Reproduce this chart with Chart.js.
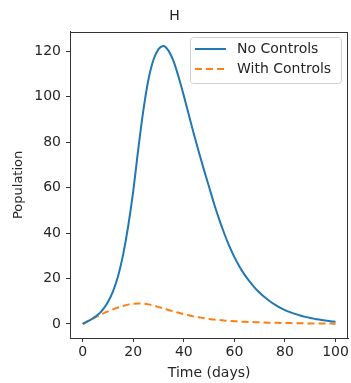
<!DOCTYPE html>
<html>
<head>
<meta charset="utf-8">
<script src="https://cdn.jsdelivr.net/npm/chart.js@4"></script>
<style>
  html, body { margin: 0; padding: 0; background: #fff; }
  #wrap { width: 351px; height: 383px; }
</style>
</head>
<body>
<div id="wrap"><canvas id="chart" width="351" height="383"></canvas></div>
<script>
const days = [0, 2, 4, 6, 8, 10, 12, 14, 16, 18, 20, 22, 24, 26, 28, 30, 32, 34, 36, 38, 40,
  42, 44, 46, 48, 50, 52, 54, 56, 58, 60, 62, 64, 66, 68, 70, 72, 74, 76, 78, 80,
  82, 84, 86, 88, 90, 92, 94, 96, 98, 100];

const noControls = [0, 1.1, 2.4, 4.0, 6.3, 9.6, 14.3, 21.0, 30.5, 43, 58.5, 77, 94, 107.5, 116.3, 121, 122.4, 120.2, 115.5, 108.5, 100.5,
  92, 83.5, 75.5, 67.7, 60.3, 52.8, 46, 39.8, 34.2, 29.4, 25.3, 21.7, 18.7, 16, 13.7, 11.7, 10, 8.5, 7.2, 6.1,
  5.2, 4.4, 3.7, 3.1, 2.6, 2.2, 1.8, 1.5, 1.2, 1.0];

const withControls = [0, 1.2, 2.3, 3.4, 4.5, 5.5, 6.4, 7.2, 7.9, 8.5, 8.9, 9.0, 8.9, 8.6, 8.1, 7.4, 6.8, 6.1, 5.5, 4.9, 4.3,
  3.8, 3.3, 2.9, 2.5, 2.2, 1.9, 1.7, 1.5, 1.3, 1.2, 1.05, 0.95, 0.85, 0.75, 0.68, 0.6, 0.55, 0.5, 0.45, 0.4,
  0.36, 0.32, 0.28, 0.25, 0.22, 0.2, 0.17, 0.15, 0.13, 0.1];

const xTicks = [0, 20, 40, 60, 80, 100];
const yTicks = [0, 20, 40, 60, 80, 100, 120];

const FONT = "'DejaVu Sans', sans-serif";
const TEXT = '#262626';
const EDGE = '#333';

// frame + legend box like matplotlib
const framePlugin = {
  id: 'frame',
  afterDraw(chart) {
    const ctx = chart.ctx;
    const a = chart.chartArea;
    ctx.save();
    ctx.strokeStyle = EDGE;
    ctx.lineWidth = 1;
    ctx.strokeRect(Math.round(a.left) + 0.5, Math.round(a.top) + 0.5,
      Math.round(a.right - a.left) - 1, Math.round(a.bottom - a.top));

    // legend in upper right
    const x0 = 190, y0 = 37, w = 151, h = 46;
    ctx.fillStyle = 'rgba(255,255,255,0.8)';
    ctx.strokeStyle = '#d0d0d0';
    ctx.beginPath();
    ctx.roundRect(x0 + 0.5, y0 + 0.5, w, h, 3);
    ctx.fill();
    ctx.stroke();
    ctx.font = '14px ' + FONT;
    ctx.textBaseline = 'middle';
    chart.data.datasets.forEach((ds, i) => {
      const yy = y0 + 12 + i * 20;
      ctx.strokeStyle = ds.borderColor;
      ctx.lineWidth = 2;
      ctx.setLineDash(ds.borderDash || []);
      ctx.beginPath();
      ctx.moveTo(x0 + 5, yy);
      ctx.lineTo(x0 + 36, yy);
      ctx.stroke();
      ctx.setLineDash([]);
      ctx.fillStyle = TEXT;
      ctx.fillText(ds.label, x0 + 47, yy);
    });
    ctx.restore();
  }
};

new Chart(document.getElementById('chart'), {
  type: 'line',
  data: {
    datasets: [
      {
        label: 'No Controls',
        data: days.map((d, i) => ({ x: d, y: noControls[i] })),
        borderColor: '#1f77b4',
        borderWidth: 2,
        pointRadius: 0,
        cubicInterpolationMode: 'monotone',
        fill: false
      },
      {
        label: 'With Controls',
        data: days.map((d, i) => ({ x: d, y: withControls[i] })),
        borderColor: '#ff7f0e',
        borderWidth: 2,
        borderDash: [7, 4],
        pointRadius: 0,
        cubicInterpolationMode: 'monotone',
        fill: false
      }
    ]
  },
  options: {
    responsive: false,
    animation: false,
    events: [],
    layout: { padding: { top: 0, right: 2, left: 0, bottom: 0 } },
    plugins: {
      legend: { display: false },
      tooltip: { enabled: false },
      title: {
        display: true,
        text: 'H',
        color: TEXT,
        font: { family: FONT, size: 14, weight: 'normal' },
        padding: { top: 8, bottom: 7 }
      }
    },
    scales: {
      x: {
        type: 'linear',
        min: -5,
        max: 105,
        afterBuildTicks: (s) => { s.ticks = xTicks.map(v => ({ value: v })); },
        afterFit: (s) => { s.height = 45; },
        ticks: { color: TEXT, font: { family: FONT, size: 14 }, padding: 2, maxRotation: 0 },
        grid: { drawOnChartArea: false, drawTicks: true, tickLength: 4, color: EDGE },
        border: { display: true, color: EDGE },
        title: {
          display: true, text: 'Time (days)', color: TEXT,
          font: { family: FONT, size: 14 }, padding: { top: 0, bottom: 1 }
        }
      },
      y: {
        min: -6.2,
        max: 128.6,
        afterBuildTicks: (s) => { s.ticks = yTicks.map(v => ({ value: v })); },
        afterFit: (s) => { s.width = 70; },
        ticks: { color: TEXT, font: { family: FONT, size: 14 }, padding: 5 },
        grid: { drawOnChartArea: false, drawTicks: true, tickLength: 4, color: EDGE },
        border: { display: true, color: EDGE },
        title: {
          display: true, text: 'Population', color: TEXT,
          font: { family: FONT, size: 13 }, padding: { top: 11, bottom: 0 }
        }
      }
    }
  },
  plugins: [framePlugin]
});
</script>
</body>
</html>
